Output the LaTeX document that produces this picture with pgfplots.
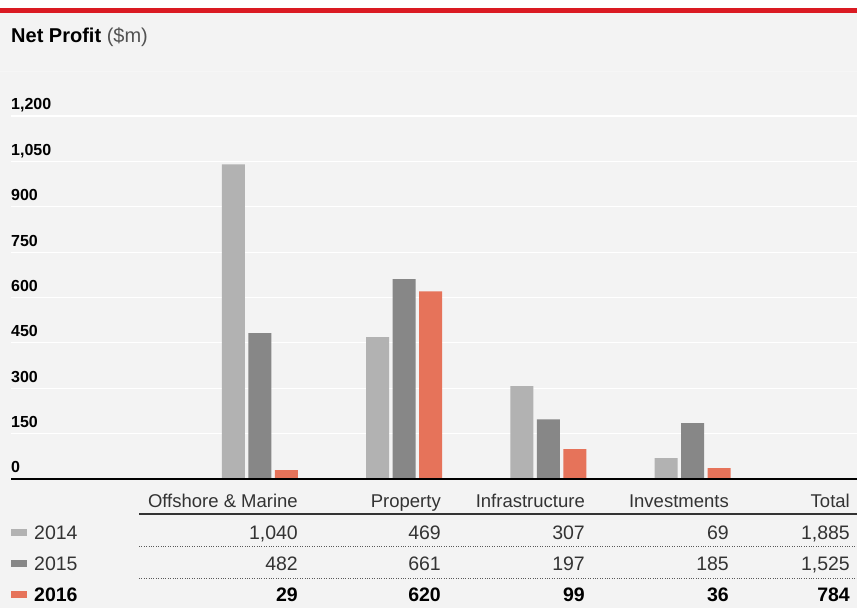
\documentclass[border=0pt]{standalone}
\usepackage{pgfplots}
\pgfplotsset{compat=1.18}
\usepackage{fontspec}
\setmainfont{Liberation Sans}
\definecolor{bg}{HTML}{F3F3F3}
\definecolor{redline}{HTML}{DA1A22}
\definecolor{c14}{HTML}{B2B2B2}
\definecolor{c15}{HTML}{878787}
\definecolor{c16}{HTML}{E6735A}
\definecolor{txt}{HTML}{333333}
\definecolor{faint}{HTML}{F6F6F6}
\begin{document}
\begin{tikzpicture}[x=1pt,y=1pt]
\fill[white] (0,0) rectangle (857,608);
\fill[bg] (0,0) rectangle (857,595);
\fill[redline] (0,594.7) rectangle (857,600);
\draw[faint, line width=0.8pt] (0,537) -- (857,537);
\node[anchor=base west, inner sep=0pt, font=\fontsize{20}{24}\selectfont] at (11,565) {\textbf{Net Profit} \textcolor{txt!85}{(\$m)}};
\begin{axis}[
  at={(11pt,129pt)}, anchor=south west,
  scale only axis, width=846pt, height=408.4pt,
  xmin=-1.726, xmax=4.139, ymin=0, ymax=1350,
  ybar=3.5pt, bar width=23pt,
  axis line style={draw=none},
  xtick=\empty,
  ytick={0,150,...,1200},
  scaled y ticks=false,
  ymajorgrids, grid style={white, line width=1.2pt},
  tick style={draw=none},
  major tick length=0pt,
  yticklabel style={anchor=base west, inner sep=0pt, xshift=0pt, yshift=6pt, font=\fontsize{16}{19}\selectfont\bfseries},
  /pgf/number format/assume math mode=true,
  /pgf/number format/1000 sep={,},
  clip=false,
]
\addplot[fill=c14, draw=none] coordinates {(0,1040) (1,469) (2,307) (3,69)};
\addplot[fill=c15, draw=none] coordinates {(0,482) (1,661) (2,197) (3,185)};
\addplot[fill=c16, draw=none] coordinates {(0,29) (1,620) (2,99) (3,36)};
\draw[black, line width=1.2pt] (rel axis cs:0,0) -- (rel axis cs:1,0);
\end{axis}
% table header
\begin{scope}[every node/.style={anchor=base east, inner sep=0pt, text=txt, font=\fontsize{18.5}{22}\selectfont}]
\node at (298,100) {Offshore \& Marine};
\node at (441,100) {Property};
\node at (585,100) {Infrastructure};
\node at (729,100) {Investments};
\node at (850,100) {Total};
\end{scope}
\draw[txt, line width=1.2pt] (139,94) -- (857,94);
\draw[gray!70!black, line width=0.9pt, dash pattern=on 0.9pt off 1.5pt] (139,61.3) -- (857,61.3);
\draw[gray!70!black, line width=0.9pt, dash pattern=on 0.9pt off 1.5pt] (139,29.3) -- (857,29.3);
% legend squares
\fill[c14] (11,71.8) rectangle (27,78.8);
\fill[c15] (11,41.1) rectangle (27,48.1);
\fill[c16] (11,9.8) rectangle (27,16.8);
\begin{scope}[every node/.style={inner sep=0pt, text=txt, font=\fontsize{19.5}{23}\selectfont}]
\node[anchor=base west] at (34,68) {2014};
\node[anchor=base west] at (34,37.3) {2015};
\node[anchor=base east] at (298,68) {1,040};
\node[anchor=base east] at (441,68) {469};
\node[anchor=base east] at (585,68) {307};
\node[anchor=base east] at (729,68) {69};
\node[anchor=base east] at (850,68) {1,885};
\node[anchor=base east] at (298,37.3) {482};
\node[anchor=base east] at (441,37.3) {661};
\node[anchor=base east] at (585,37.3) {197};
\node[anchor=base east] at (729,37.3) {185};
\node[anchor=base east] at (850,37.3) {1,525};
\end{scope}
\begin{scope}[every node/.style={inner sep=0pt, text=black, font=\fontsize{19.5}{23}\selectfont\bfseries}]
\node[anchor=base west] at (34,6) {2016};
\node[anchor=base east] at (298,6) {29};
\node[anchor=base east] at (441,6) {620};
\node[anchor=base east] at (585,6) {99};
\node[anchor=base east] at (729,6) {36};
\node[anchor=base east] at (850,6) {784};
\end{scope}
\pgfresetboundingbox
\useasboundingbox (0,0) rectangle (857,608);
\end{tikzpicture}
\end{document}
